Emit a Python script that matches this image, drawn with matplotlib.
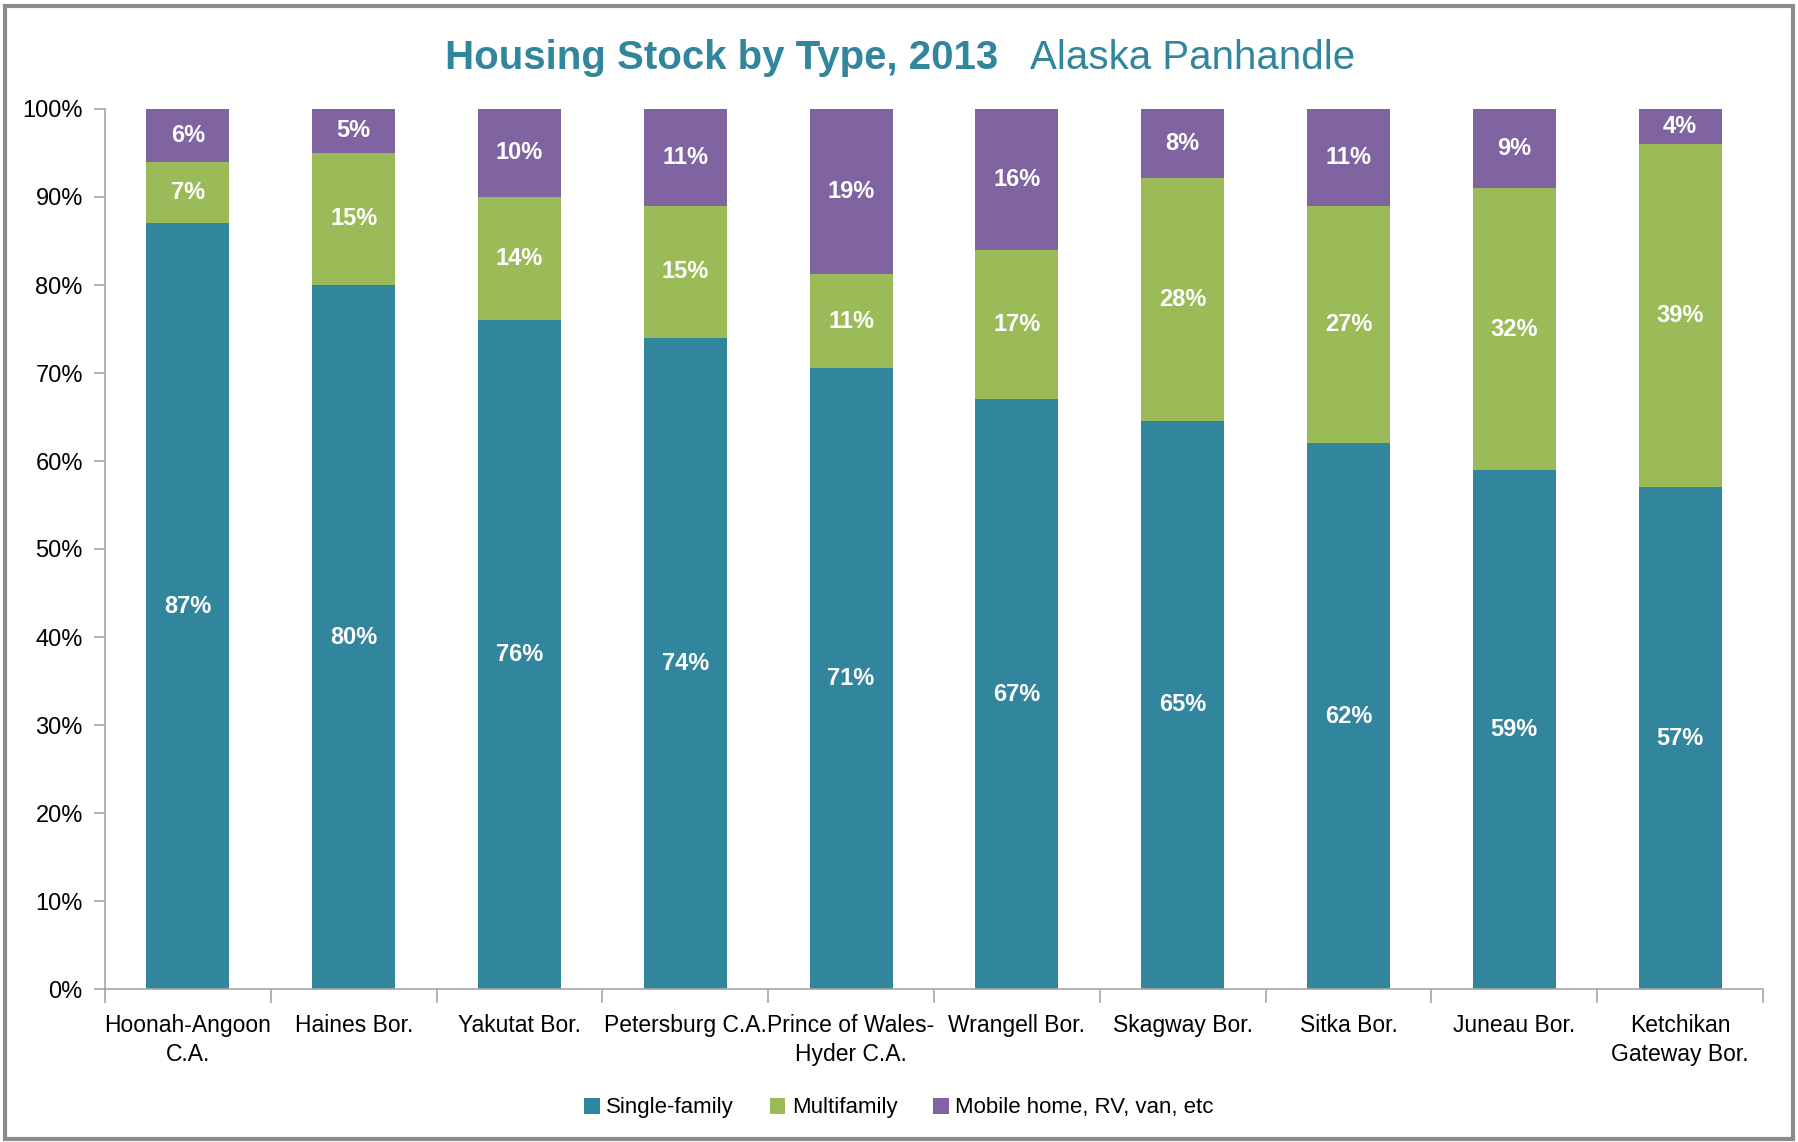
import matplotlib
matplotlib.use("Agg")
import matplotlib.pyplot as plt
import numpy as np
from matplotlib.patches import Rectangle

plt.rcParams['font.family'] = ['Liberation Sans', 'DejaVu Sans']

# ------------------- dados -------------------
regioes = [
    "Hoonah-Angoon\nC.A.", "Haines Bor.", "Yakutat Bor.", "Petersburg C.A.",
    "Prince of Wales-\nHyder C.A.", "Wrangell Bor.", "Skagway Bor.", "Sitka Bor.",
    "Juneau Bor.", "Ketchikan\nGateway Bor.",
]
single_family = [87, 80, 76, 74, 70.6, 67, 64.6, 62, 59, 57]
multifamily = [7, 15, 14, 15, 10.6, 17, 27.6, 27, 32, 39]
mobile_home = [6, 5, 10, 11, 18.8, 16, 7.8, 11, 9, 4]
series_nomes = ["Single-family", "Multifamily", "Mobile home, RV, van, etc"]
# ----------------------------------------------

cores = ["#31859C", "#9BBB59", "#8064A2"]
cinza = "#A6A6A6"

fig = plt.figure(figsize=(17.98, 11.42), dpi=100)
ax = fig.add_axes([105 / 1798, 1 - 989 / 1142, (1763 - 105) / 1798, (989 - 109) / 1142])

x = np.arange(len(regioes))
base = np.zeros(len(regioes))
for valores, cor, nome in zip([single_family, multifamily, mobile_home], cores, series_nomes):
    valores = np.array(valores)
    ax.bar(x, valores, 0.5, bottom=base, color=cor, label=nome, edgecolor="none")
    for xi, b, v in zip(x, base, valores):
        ax.text(xi, b + v / 2, f"{round(v):.0f}%", ha="center", va="center",
                color="white", fontsize=17, fontweight="bold")
    base += valores

ax.set_xlim(-0.5, len(regioes) - 0.5)
ax.set_ylim(0, 100)
ax.set_yticks(np.arange(0, 101, 10))
ax.set_yticklabels([f"{v}%" for v in range(0, 101, 10)], fontsize=17)
ax.set_xticks(x)
ax.set_xticklabels(regioes, fontsize=16.5, linespacing=1.35)
ax.set_xticks(np.arange(-0.5, len(regioes)), minor=True)
ax.tick_params(axis="x", which="major", length=0, pad=18)
ax.tick_params(axis="x", which="minor", length=10, color=cinza, width=1.2)
ax.tick_params(axis="y", length=8, color=cinza, width=1.2, pad=8)

for lado in ["top", "right"]:
    ax.spines[lado].set_visible(False)
for lado in ["left", "bottom"]:
    ax.spines[lado].set_color(cinza)
    ax.spines[lado].set_linewidth(1.2)

y_titulo = 1 - 58 / 1142
fig.text(998 / 1798, y_titulo, "Housing Stock by Type, 2013", ha="right", va="center",
         fontsize=29, fontweight="bold", color="#31859C")
fig.text(1030 / 1798, y_titulo, "Alaska Panhandle", ha="left", va="center",
         fontsize=29, color="#31859C")

fig.legend(loc="center", bbox_to_anchor=(0.5, 1 - 1108 / 1142), ncol=3, frameon=False,
           fontsize=16, handlelength=0.7, handleheight=0.7, handletextpad=0.3,
           columnspacing=1.6)

fig.patches.append(Rectangle((0.003, 0.003), 0.994, 0.992, transform=fig.transFigure,
                             fill=False, edgecolor="#8C8C8C", linewidth=3))

fig.savefig("out.png", dpi=100)
